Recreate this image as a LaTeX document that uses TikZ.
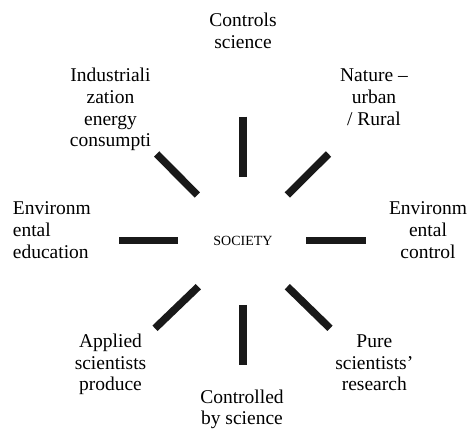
\documentclass[tikz,border=0pt]{standalone}
\usepackage{fontspec}
\setmainfont{Liberation Serif}
\begin{document}
\begin{tikzpicture}[x=1pt,y=-1pt,
  lbl/.style={font=\fontsize{19.5}{21.7}\selectfont, align=center, inner sep=0pt, anchor=base},
  lbll/.style={font=\fontsize{19.5}{21.7}\selectfont, align=left, inner sep=0pt, anchor=base west},
  bar/.style={line width=7.5pt, color=black!90, line cap=butt}]
\useasboundingbox (0,0) rectangle (472,430);
\node[inner sep=0pt, font=\fontsize{14}{16}\selectfont] (soc) at (243,241) {SOCIETY};
% bar end points
\coordinate (t1) at (243,116.7); \coordinate (t2) at (243,176.7);
\coordinate (ul1) at (156.7,154); \coordinate (ul2) at (197.3,195);
\coordinate (ur1) at (328.5,154); \coordinate (ur2) at (287.3,195);
\coordinate (l1) at (119.3,240.3); \coordinate (l2) at (178.3,240.3);
\coordinate (r1) at (306,240.3); \coordinate (r2) at (366,240.3);
\coordinate (ll1) at (198.3,286.7); \coordinate (ll2) at (155,328.3);
\coordinate (b1) at (243,305); \coordinate (b2) at (243,365);
\coordinate (lr1) at (287.3,286.7); \coordinate (lr2) at (330,328.3);
\draw[bar] (t1) -- (t2);
\draw[bar] (ul1) -- (ul2);
\draw[bar] (ur1) -- (ur2);
\draw[bar] (l1) -- (l2);
\draw[bar] (r1) -- (r2);
\draw[bar] (ll1) -- (ll2);
\draw[bar] (b1) -- (b2);
\draw[bar] (lr1) -- (lr2);
% labels (anchored at the baseline of the last line)
\node[lbl] (top) at (243,48.3) {Controls\\science};
\node[lbl] (indus) at (110.5,146.8) {Industriali\\zation\\energy\\consumpti};
\node[lbl] (nature) at (374,125.1) {Nature –\\urban\\/ Rural};
\node[lbll] (envedu) at (12.7,258.4) {Environm\\ental\\education};
\node[lbl] (envcon) at (428,258.4) {Environm\\ental\\control};
\node[lbl] (applied) at (110.5,390.9) {Applied\\scientists\\produce};
\node[lbl] (ctrl) at (242,425) {Controlled\\by science};
\node[lbl] (pure) at (374.3,390.9) {Pure\\scientists’\\research};
\end{tikzpicture}
\end{document}
